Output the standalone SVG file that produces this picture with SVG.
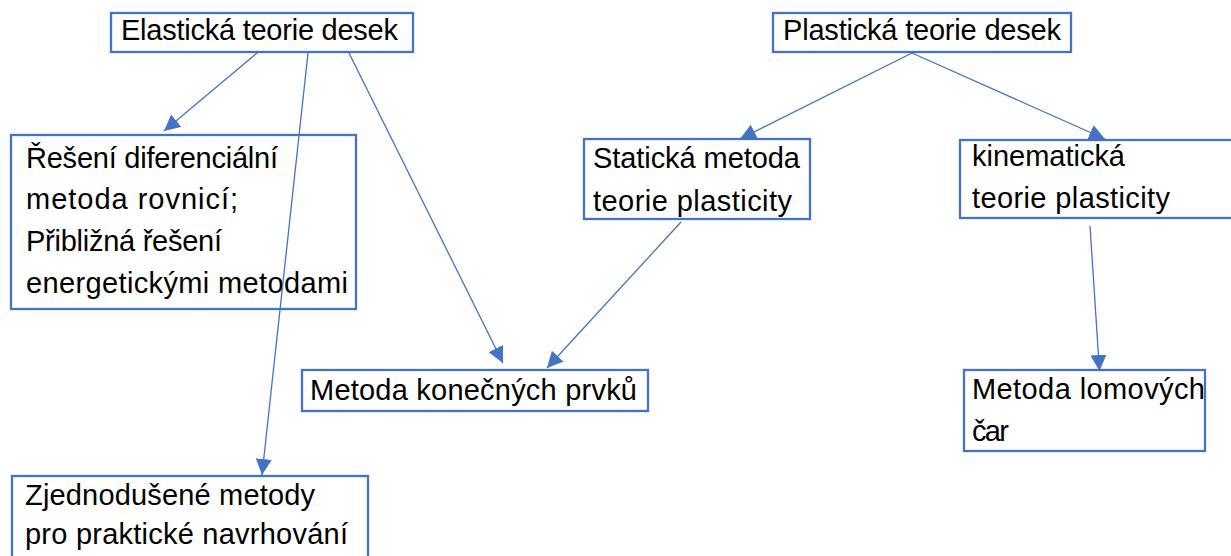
<svg xmlns="http://www.w3.org/2000/svg" width="1231" height="556" viewBox="0 0 1231 556">
<style>
.box{fill:#fff;stroke:#4472C4;stroke-width:2.3}
.t{font-family:"Liberation Sans",Arial,sans-serif;font-size:29px;fill:#000}
.c{stroke:#4472C4;stroke-width:1.3;fill:none;marker-end:url(#ah)}
</style>
<defs>
<marker id="ah" markerUnits="userSpaceOnUse" markerWidth="16" markerHeight="16" viewBox="0 0 15 15" refX="15" refY="7.5" orient="auto">
<path d="M0,0 L15,7.5 L0,15 z" fill="#4472C4"/>
</marker>
</defs>
<rect width="1231" height="556" fill="#fff"/>
<g id="n-elastic">
<rect class="box" x="111" y="13" width="302" height="39"/>
<text class="t" x="121" y="40" textLength="277">Elastická teorie desek</text>
</g>
<g id="n-reseni">
<rect class="box" x="11" y="135" width="345" height="174"/>
<text class="t" x="26" y="167.7" textLength="252">Řešení diferenciální</text>
<text class="t" x="26" y="208.5" textLength="212">metoda rovnicí;</text>
<text class="t" x="26" y="250.5" textLength="196">Přibližná řešení</text>
<text class="t" x="26" y="293" textLength="322">energetickými metodami</text>
</g>
<g id="n-mkp">
<rect class="box" x="302" y="370" width="346" height="41"/>
<text class="t" x="310" y="400" textLength="327">Metoda konečných prvků</text>
</g>
<g id="n-zjed">
<rect class="box" x="12" y="476" width="356" height="100"/>
<text class="t" x="25" y="505" textLength="290">Zjednodušené metody</text>
<text class="t" x="25" y="544" textLength="323">pro praktické navrhování</text>
</g>
<g id="n-plastic">
<rect class="box" x="773" y="13" width="298" height="39"/>
<text class="t" x="783" y="39.5" textLength="278">Plastická teorie desek</text>
</g>
<g id="n-static">
<rect class="box" x="584" y="139" width="226" height="80"/>
<text class="t" x="593" y="168" textLength="207">Statická metoda</text>
<text class="t" x="593" y="210.5" textLength="199">teorie plasticity</text>
</g>
<g id="n-kinem">
<rect class="box" x="960" y="140" width="280" height="78"/>
<text class="t" x="972" y="166" textLength="153">kinematická</text>
<text class="t" x="972" y="207.5" textLength="198">teorie plasticity</text>
</g>
<g id="n-lomove">
<rect class="box" x="964" y="370" width="241" height="81"/>
<text class="t" x="972" y="398.5" textLength="233">Metoda lomových</text>
<text class="t" x="972" y="440.7" textLength="37">čar</text>
</g>
<g id="connectors">
<line class="c" x1="257" y1="53" x2="164" y2="131"/>
<line class="c" x1="308" y1="53" x2="262" y2="475"/>
<line class="c" x1="349" y1="53" x2="503" y2="363"/>
<line class="c" x1="681" y1="222" x2="547" y2="368"/>
<line class="c" x1="912" y1="53" x2="740" y2="139"/>
<line class="c" x1="912" y1="53" x2="1105" y2="139"/>
<line class="c" x1="1090" y1="226" x2="1099.5" y2="371"/>
</g>
</svg>
